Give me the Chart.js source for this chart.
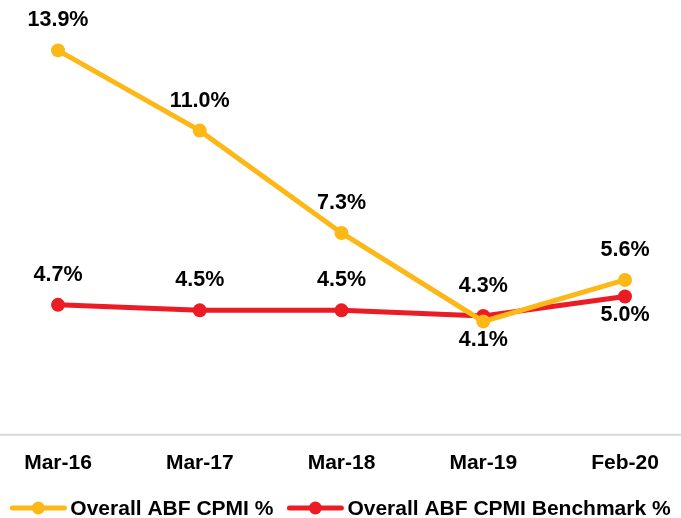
<!DOCTYPE html>
<html>
<head>
<meta charset="utf-8">
<script src="https://cdn.jsdelivr.net/npm/chart.js@4/dist/chart.umd.min.js"></script>
<style>
  html, body { margin: 0; padding: 0; background: #ffffff; }
  #wrap { width: 681px; height: 518px; position: relative; }
</style>
</head>
<body>
<div id="wrap"><canvas id="c" width="681" height="518"></canvas></div>
<script>
const categories = ['Mar-16', 'Mar-17', 'Mar-18', 'Mar-19', 'Feb-20'];
const abfCpmi = [13.9, 11.0, 7.3, 4.1, 5.6];
const abfBenchmark = [4.7, 4.5, 4.5, 4.3, 5.0];
const abfLabelSide = ['above', 'above', 'above', 'below', 'above'];
const benchLabelSide = ['above', 'above', 'above', 'above', 'below'];
const seriesNames = ['Overall ABF CPMI %', 'Overall ABF CPMI Benchmark %'];

const YELLOW = '#FBB817';
const RED = '#EC1C24';
const FONT = '"Liberation Sans", Arial, sans-serif';

const axisLinePlugin = {
  id: 'axisLine',
  beforeDatasetsDraw(chart) {
    const ctx = chart.ctx;
    const y = chart.scales.y.getPixelForValue(0);
    ctx.save();
    ctx.strokeStyle = '#D9D9D9';
    ctx.lineWidth = 2;
    ctx.beginPath(); ctx.moveTo(0, y); ctx.lineTo(chart.width, y); ctx.stroke();
    ctx.restore();
  }
};

const labelPlugin = {
  id: 'valueLabels',
  afterDatasetsDraw(chart) {
    const ctx = chart.ctx;
    const sides = [abfLabelSide, benchLabelSide];
    ctx.save();
    ctx.font = 'bold 21.5px ' + FONT;
    ctx.fillStyle = '#000000';
    ctx.textAlign = 'center';
    ctx.textBaseline = 'middle';
    chart.data.datasets.forEach((ds, di) => {
      const meta = chart.getDatasetMeta(di);
      meta.data.forEach((pt, i) => {
        const side = sides[di][i];
        const dy = side === 'above' ? -30 : 19;
        ctx.fillText(ds.data[i].toFixed(1) + '%', pt.x, pt.y + dy);
      });
    });
    ctx.restore();
  }
};

const lineLegendPlugin = {
  id: 'lineLegend',
  afterDraw(chart) {
    const ctx = chart.ctx;
    const ds = chart.data.datasets;
    ctx.save();
    ctx.font = 'bold 21px ' + FONT;
    ctx.textBaseline = 'middle';
    ctx.textAlign = 'left';
    const sw = 56, gapText = 4, gapItem = 14;
    const widths = ds.map(d => ctx.measureText(d.label).width);
    let total = 0;
    widths.forEach((w, i) => { total += sw + gapText + w + (i < widths.length - 1 ? gapItem : 0); });
    let x = (chart.width - total) / 2;
    const y = 508;
    ds.forEach((d, i) => {
      ctx.strokeStyle = d.borderColor;
      ctx.fillStyle = d.borderColor;
      ctx.lineWidth = 5;
      ctx.lineCap = 'round';
      ctx.beginPath(); ctx.moveTo(x + 2, y); ctx.lineTo(x + sw - 2, y); ctx.stroke();
      ctx.beginPath(); ctx.arc(x + sw / 2, y, 6.5, 0, Math.PI * 2); ctx.fill();
      ctx.fillStyle = '#000000';
      ctx.fillText(d.label, x + sw + gapText, y + 1);
      x += sw + gapText + widths[i] + gapItem;
    });
    ctx.restore();
  }
};

new Chart(document.getElementById('c'), {
  type: 'line',
  data: {
    labels: categories,
    datasets: [
      {
        label: seriesNames[0], data: abfCpmi,
        borderColor: YELLOW, backgroundColor: YELLOW,
        borderWidth: 5, pointRadius: 7, pointHoverRadius: 7,
        pointBackgroundColor: YELLOW, pointBorderWidth: 0, tension: 0
      },
      {
        label: seriesNames[1], data: abfBenchmark,
        borderColor: RED, backgroundColor: RED,
        borderWidth: 5, pointRadius: 7, pointHoverRadius: 7,
        pointBackgroundColor: RED, pointBorderWidth: 0, tension: 0
      }
    ]
  },
  options: {
    responsive: false,
    animation: false,
    devicePixelRatio: 1,
    layout: { padding: { left: 58, right: 56, top: 20, bottom: 34 } },
    scales: {
      x: {
        offset: false,
        grid: { display: false },
        border: { display: false },
        ticks: { color: '#000000', font: { family: FONT, size: 21, weight: 'bold' }, padding: 8 }
      },
      y: {
        display: false,
        min: 0, max: 15
      }
    },
    plugins: {
      tooltip: { enabled: false },
      legend: { display: false }
    }
  },
  plugins: [axisLinePlugin, labelPlugin, lineLegendPlugin]
});
</script>
</body>
</html>
